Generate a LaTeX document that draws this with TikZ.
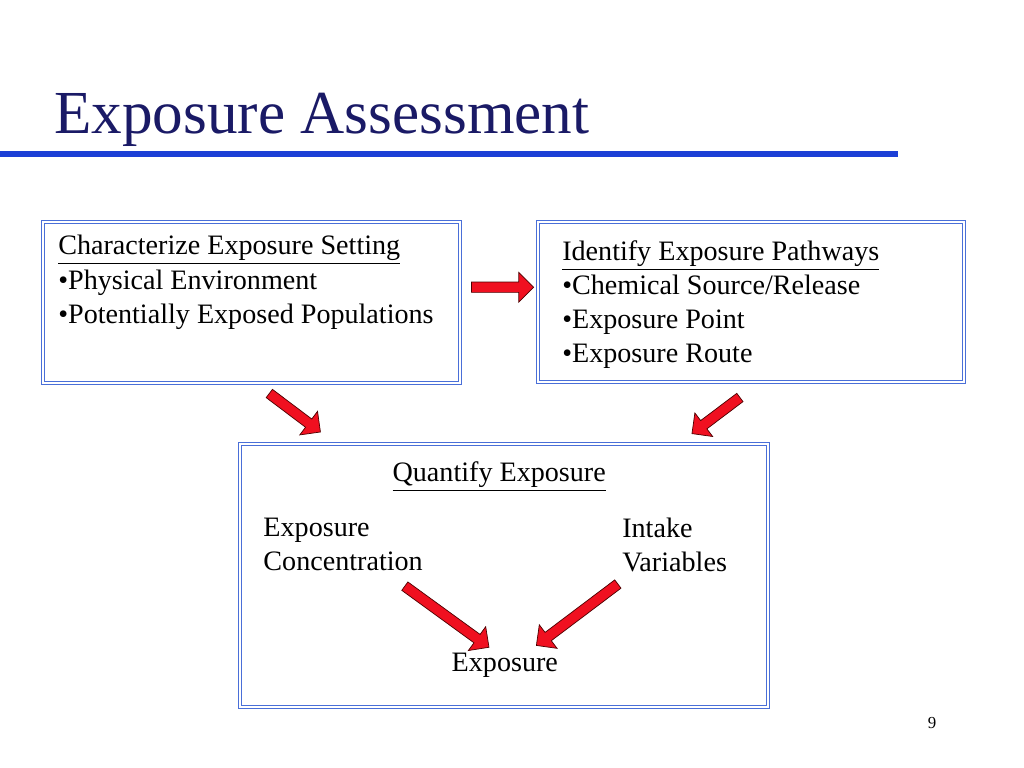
\documentclass[tikz,border=0pt]{standalone}
\usepackage{fontspec}
\setmainfont{Liberation Serif}
\usetikzlibrary{positioning,shapes.arrows}
\definecolor{titlenavy}{HTML}{1A1A66}
\definecolor{rulebl}{HTML}{1C3FD6}
\definecolor{boxbl}{HTML}{4A6FD8}
\definecolor{arrred}{HTML}{F01020}
\tikzset{
  panel/.style={draw=boxbl, double=white, double distance=1.2pt, line width=0.9pt},
  body/.style={anchor=north west, align=left, inner sep=0pt, font=\fontsize{20}{24.2}\selectfont},
  barrow/.style={single arrow, draw=black!70!red, fill=arrred, line width=0.5pt,
    minimum width=21pt, single arrow head extend=6pt, single arrow head indent=0pt, inner sep=3pt}
}
\begin{document}
\begin{tikzpicture}
\useasboundingbox (0,0) rectangle (25.6,19.2);
% title
\node[anchor=base west, inner sep=0pt, text=titlenavy, font=\fontsize{43.5}{48}\selectfont] (title) at (1.35,15.85) {Exposure Assessment};
\draw[rulebl, line width=4.5pt] (0,15.35) -- (22.45,15.35);

% boxes
\draw[panel] (1.075,9.625) rectangle (11.5,13.65);
\draw[panel] (13.45,9.65) rectangle (24.1,13.65);
\draw[panel] (6,1.525) rectangle (19.2,8.1);

\node[body] (setting) at (1.45,13.32) {\underline{Characterize Exposure Setting}\\
  •Physical Environment\\ •Potentially Exposed Populations};
\node[body] (pathways) at (14.05,13.18) {\underline{Identify Exposure Pathways}\\
  •Chemical Source/Release\\ •Exposure Point\\ •Exposure Route};
\node[body, anchor=base] (quantify) at (12.48,7.15) {\underline{Quantify Exposure}};
\node[body] (conc) at (6.58,6.26) {Exposure\\ Concentration};
\node[body] (intake) at (15.55,6.26) {Intake\\ Variables};
\node[body, anchor=base] (exposure) at (12.62,2.4) {Exposure};
\node[anchor=base, font=\fontsize{12}{14}\selectfont] (page) at (23.3,0.98) {9};

% arrows
\node[barrow, minimum height=1.55cm] (a0) at (12.5,12.02) {};
\node[barrow, rotate=-37, minimum height=1.6cm] (a1) at (7.32,8.92) {};
\node[barrow, rotate=-143, minimum height=1.5cm] (a2) at (17.95,8.85) {};
\node[barrow, rotate=-36, minimum height=2.6cm] (a3) at (11.12,3.82) {};
\node[barrow, rotate=-143, minimum height=2.55cm] (a4) at (14.48,3.87) {};
\end{tikzpicture}
\end{document}
